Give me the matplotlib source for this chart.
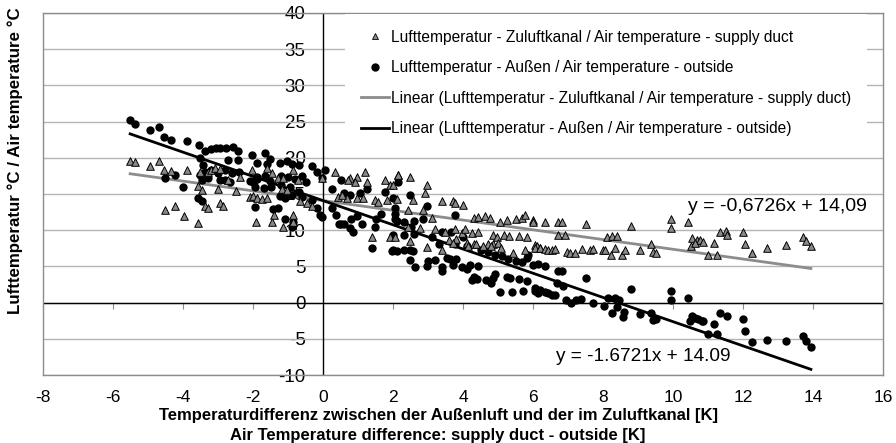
import matplotlib
matplotlib.use("Agg")
import matplotlib.pyplot as plt
from matplotlib.lines import Line2D

plt.rcParams['font.family'] = ['Liberation Sans', 'DejaVu Sans']

# Temperature difference (supply duct - outside) [K] and supply-duct air temperature [°C]
x_supply = [
    -5.51, -5.37, -4.94, -4.68, -4.54, -4.34, -3.88, -4.51, -4.23, -3.97, -3.56, -3.51,
    -3.56, -3.45, -3.30, -3.20, -3.10, -2.95, -3.37, -3.30, -2.94, -2.85, -3.00, -2.71,
    -2.49, -2.37, -2.04, -2.10, -1.92, -1.47, -1.13, -0.86,
    -1.61, -1.47, -1.30, -1.14, -0.86, -0.71, -2.00, -1.90, -1.75, -1.60, -1.18, -1.04,
    -0.66, -0.47, -0.32, -1.40, -0.86, 0.34, 0.77, 0.97, 1.20, 1.25, 0.43, 0.69, 0.97,
    1.15, 1.49, 1.57, 1.77, 1.91, 2.14, 1.83, 2.10, 1.39, 1.91, 2.05, 0.71, 0.91, 2.00,
    0.53, -0.03, 2.15, 2.49, 2.96, 2.91, 2.58, 3.39, 3.70, 3.77, 4.01, 2.44, 2.87, 3.10,
    4.30, 4.44, 4.63, 4.77, 5.06, 5.25, 5.50, 5.69, 5.78, 6.00, 2.44, 2.77, 3.20, 3.49,
    3.77, 3.97, 4.06, 4.26, 4.44, 4.86, 4.97, 5.16, 5.30, 5.60, 5.83, 6.06, 6.14, 2.49,
    3.60, 3.80, 4.10, 4.30, 4.70, 4.86, 2.97, 3.40, 3.71, 4.14, 4.37, 4.56, 4.80, 4.99,
    5.09, 5.43, 5.77, 6.10, 6.20,
    5.99, 6.34, 6.70, 6.83, 7.51, 8.79, 9.94, 9.94, 6.70, 6.90, 8.10, 8.27, 8.40, 9.37,
    6.06, 6.20, 6.34, 6.44, 6.54, 6.63, 6.97, 7.06, 7.20, 7.40, 7.63, 7.71, 8.00, 8.06,
    8.24, 8.34, 8.53, 8.63, 9.06, 9.43, 9.50,
    10.44, 10.54, 10.69, 10.77, 10.86, 10.50, 10.62, 11.18, 11.01, 11.25, 11.34, 11.50,
    11.54, 12.01, 12.06, 12.27, 12.68, 13.22, 13.70, 13.80, 13.94,
]
t_supply = [
    19.6, 19.4, 18.8, 19.5, 18.3, 18.2, 18.3, 12.8, 13.3, 12.0, 11.0, 18.1,
    16.1, 15.6, 18.0, 18.3, 18.6, 18.4, 13.4, 13.0, 13.8, 13.3, 15.7, 17.0,
    15.4, 17.4, 18.3, 14.6, 11.2, 11.1, 10.5, 11.2,
    18.6, 17.9, 17.2, 17.2, 18.3, 17.0, 14.7, 14.5, 14.3, 14.5, 15.7, 15.5,
    14.1, 13.8, 13.3, 12.1, 12.1, 18.1, 17.2, 17.3, 18.1, 16.7, 14.6, 14.4, 14.5,
    14.4, 14.2, 13.9, 17.0, 16.3, 17.6, 14.2, 14.3, 9.0, 9.1, 9.0, 17.0, 16.7, 16.3,
    14.9, 17.2, 17.6, 17.3, 16.3, 15.1, 14.2, 14.0, 14.1, 13.8, 13.5, 12.8, 12.8, 11.7,
    11.7, 11.8, 11.9, 11.7, 11.2, 11.4, 11.5, 11.7, 12.1, 11.4, 10.5, 10.3, 10.1, 9.8,
    10.1, 9.6, 10.1, 9.6, 9.8, 9.4, 9.0, 9.4, 9.2, 9.2, 9.1, 8.0, 7.6, 8.5,
    8.6, 8.8, 8.3, 8.1, 8.1, 8.1, 7.7, 7.2, 8.3, 7.8, 8.1, 7.8, 7.8, 8.3,
    7.6, 6.9, 7.3, 7.8, 7.6,
    11.2, 11.2, 11.1, 11.1, 10.9, 10.6, 11.6, 10.3, 9.4, 9.3, 9.0, 9.2, 9.2, 8.1,
    7.6, 7.5, 7.4, 7.2, 7.3, 7.4, 7.0, 6.8, 6.9, 7.4, 7.3, 7.4, 7.3, 7.2,
    6.6, 7.5, 6.6, 7.2, 7.3, 7.0, 6.8,
    11.2, 8.9, 8.7, 8.7, 8.4, 7.8, 8.3, 8.3, 6.6, 6.6, 9.8, 9.9,
    9.4, 9.7, 8.1, 6.8, 7.6, 7.9, 9.1, 8.5, 7.8,
]

# Temperature difference [K] and outside air temperature [°C]
x_outside = [
    -5.51, -5.37, -4.94, -4.68, -4.54, -4.34, -3.88, -3.53, -3.37, -3.20, -3.07, -2.94,
    -2.77, -2.57, -2.43, -3.51, -3.43, -2.71, -2.43, -2.04, -3.37, -3.20, -3.00, -2.80,
    -2.60, -2.40, -3.51, -4.51, -4.23, -3.99, -3.45, -3.30, -2.94, -2.80, -2.66, -3.57,
    -3.45, -1.94, -1.97, -2.10, -1.90,
    -1.66, -1.51, -1.90, -1.60, -1.23, -1.04, -0.89, -0.70, -0.32, -0.18, 0.06, -0.04,
    -1.90, -1.66, -1.51, -2.00, -1.20, -1.00, -0.80, -0.60, -0.50, -1.95, -1.70, -1.50,
    -1.20, -0.95, -0.70, -1.23, -1.09, -0.89, -0.60, -0.32, -1.44, -1.30, -1.10, -0.86,
    -0.90, -0.18, -0.09, -0.04, 0.26, 0.51, 0.60, 0.26, 0.36, 0.46, 0.77, 1.06, 1.26,
    0.81, 0.97, 1.11, 1.51, 1.66, 1.49, 1.77, 2.00, 2.06, 2.06, 1.39, 1.97, 2.10, 0.77,
    0.86, 0.60, 0.51,
    2.15, 2.49, 2.96, 3.77, 2.06, 2.10, 2.30, 2.60, 2.86, 3.40, 3.67, 4.00, 2.50, 2.00,
    2.30, 2.60, 3.10, 3.30, 3.77, 4.10,
    2.01, 2.30, 2.49, 2.58, 2.49, 2.63, 2.97, 3.01, 3.20, 3.40, 3.40, 3.54, 3.63, 3.71,
    3.81, 3.96, 4.10, 4.20, 4.43, 4.30, 4.27, 4.41, 4.66, 4.81, 4.90, 4.86, 5.25, 5.34,
    5.59, 5.83, 5.06, 5.39, 5.72, 6.06, 6.14, 4.50, 4.70, 4.90, 5.10, 5.29, 5.50, 5.69,
    5.83, 5.87, 6.14,
    6.00, 6.34, 6.70, 6.83, 6.68, 6.86, 7.51, 6.06, 6.20, 6.34, 6.44, 6.54, 6.63, 6.94,
    7.09, 7.23, 7.37, 7.71, 8.14, 8.33, 8.47, 8.04, 8.27, 8.41, 8.60, 8.56, 8.79, 9.06,
    9.37, 9.43, 9.50, 9.94, 9.94,
    10.44, 10.54, 10.63, 10.72, 10.82, 10.48, 10.86, 11.18, 11.01, 11.25, 11.34, 11.54,
    12.01, 12.06, 12.27, 12.68, 13.22, 13.70, 13.80, 13.94,
]
t_outside = [
    25.2, 24.7, 23.8, 24.2, 22.9, 22.5, 22.3, 21.8, 21.0, 21.2, 21.4, 21.3,
    21.4, 21.5, 21.0, 20.0, 19.0, 19.7, 19.7, 20.4, 18.0, 18.3, 17.9, 18.3,
    17.9, 18.1, 17.6, 17.2, 17.6, 16.0, 17.0, 17.2, 16.9, 16.9, 16.7, 14.5,
    14.0, 13.2, 16.8, 16.8, 17.1,
    20.6, 19.9, 19.3, 19.1, 19.3, 19.5, 19.2, 19.0, 18.8, 18.1, 18.3, 17.2,
    17.3, 17.5, 16.8, 16.6, 17.5, 17.3, 17.1, 17.5, 16.6, 16.0, 15.8, 16.0,
    16.2, 16.0, 15.3, 14.7, 14.5, 14.8, 14.6, 14.2, 12.9, 13.1, 11.6, 11.2,
    10.4, 13.1, 12.1, 11.8, 15.7, 17.0, 15.2, 13.0, 12.1, 10.8, 14.9, 15.2, 15.7,
    11.6, 12.0, 10.9, 11.6, 12.3, 10.4, 15.3, 14.5, 13.1, 12.2, 7.6, 7.1, 7.1, 10.3,
    9.8, 10.8, 10.8,
    16.7, 14.9, 13.3, 12.1, 11.6, 11.3, 11.1, 11.3, 11.6, 9.8, 9.8, 9.1, 10.4, 9.3,
    9.4, 9.5, 9.0, 8.1, 8.1, 7.8,
    7.3, 7.2, 7.3, 7.1, 5.9, 4.9, 5.0, 5.7, 5.9, 4.9, 4.3, 6.2, 6.0, 5.2,
    6.0, 4.9, 4.6, 5.2, 5.1, 3.5, 3.1, 3.3, 3.1, 2.7, 3.9, 3.4, 3.6, 3.4,
    3.2, 3.0, 1.4, 1.4, 1.6, 1.6, 1.3, 7.2, 7.0, 6.6, 6.4, 6.0, 5.8, 5.6,
    6.1, 6.6, 5.4,
    5.2, 5.0, 4.4, 4.3, 2.7, 2.3, 3.4, 2.0, 1.7, 1.4, 1.3, 1.0, 1.1, 0.3,
    0.0, 0.4, 0.5, 0.0, 0.7, 0.7, 0.4, -0.5, -1.5, -0.6, -1.3, -2.0, 1.9, -1.6,
    -1.4, -2.4, -2.2, 1.6, 0.3,
    0.7, -1.9, -2.1, -2.3, -2.5, -2.6, -2.6, -2.9, -4.3, -4.4, -1.5, -1.8,
    -2.3, -3.9, -5.5, -5.1, -5.3, -4.6, -5.3, -6.2,
]

# Linear trend lines: (slope, intercept) and their equation labels
fit_supply = (-0.6726, 14.09)
fit_outside = (-1.6721, 14.09)
eq_supply = "y = -0,6726x + 14,09"
eq_outside = "y = -1.6721x + 14.09"

lbl_supply = "Lufttemperatur - Zuluftkanal / Air temperature - supply duct"
lbl_outside = "Lufttemperatur - Außen / Air temperature - outside"

x_ticks = list(range(-8, 17, 2))
y_ticks = list(range(-10, 41, 5))

fig = plt.figure(figsize=(8.96, 4.43), dpi=100)
ax = fig.add_axes([43 / 896, 1 - 375 / 443, 840 / 896, 362 / 443])
ax.set_xlim(-8, 16)
ax.set_ylim(-10, 40)

# plot area frame
for s in ax.spines.values():
    s.set_color('#8c8c8c')
    s.set_linewidth(1.0)

# horizontal gridlines only
ax.set_yticks(y_ticks)
ax.yaxis.grid(True, color='#b4b4b4', linewidth=1.0)
ax.set_axisbelow(True)
ax.tick_params(axis='y', left=False, labelleft=False)
ax.set_xticks(x_ticks)
ax.set_xticklabels([str(v) for v in x_ticks], fontsize=12.5)
ax.tick_params(axis='x', length=0, pad=11)

# axes crossing at zero
ax.axhline(0, color='black', linewidth=1.0, zorder=1.5)
ax.axvline(0, color='black', linewidth=1.0, zorder=1.5)

secx = ax.secondary_xaxis((0 - (-10)) / 50)
secx.set_xticks(x_ticks)
secx.tick_params(axis='x', length=4, width=0.8, color='#8c8c8c', labelbottom=False)
for s in secx.spines.values():
    s.set_visible(False)

secy = ax.secondary_yaxis((0 - (-8)) / 24)
secy.set_yticks(y_ticks)
secy.set_yticklabels([str(v) for v in y_ticks], fontsize=13.5)
secy.tick_params(axis='y', length=0, pad=12.5)
for s in secy.spines.values():
    s.set_visible(False)

# trend lines
xs_s = [min(x_supply), max(x_supply)]
ax.plot(xs_s, [fit_supply[0] * v + fit_supply[1] for v in xs_s],
        color='#8c8c8c', linewidth=2.0, zorder=3)
xs_o = [min(x_outside), max(x_outside)]
ax.plot(xs_o, [fit_outside[0] * v + fit_outside[1] for v in xs_o],
        color='black', linewidth=2.0, zorder=3)

# measured points
ax.scatter(x_outside, t_outside, s=36, marker='o', color='black', zorder=4,
           linewidths=0)
ax.scatter(x_supply, t_supply, s=30, marker='^', facecolor='#8a8a8a',
           edgecolor='black', linewidths=0.7, zorder=5)

ax.text(15.54, 13.25, eq_supply, fontsize=14, ha='right', va='center', zorder=6)
ax.text(11.63, -7.45, eq_outside, fontsize=13.7, ha='right', va='center', zorder=6)

handles = [
    Line2D([], [], linestyle='none', marker='^', markersize=5,
           markerfacecolor='#8a8a8a', markeredgecolor='black', markeredgewidth=0.6),
    Line2D([], [], linestyle='none', marker='o', markersize=5, color='black'),
    Line2D([], [], color='#8c8c8c', linewidth=2.0),
    Line2D([], [], color='black', linewidth=2.0),
]
labels = [lbl_supply, lbl_outside,
          "Linear (" + lbl_supply + ")", "Linear (" + lbl_outside + ")"]
leg = ax.legend(handles, labels, loc='upper left',
                bbox_to_anchor=((345 - 43) / 840, 0.997), borderaxespad=0,
                fontsize=11.2, frameon=True, fancybox=False, framealpha=1,
                edgecolor='none', facecolor='white', borderpad=1.0,
                handlelength=1.8, handletextpad=0.15, labelspacing=1.0)
leg.set_zorder(10)

fig.text(438 / 896, 1 - 420 / 443,
         "Temperaturdifferenz zwischen der Außenluft und der im Zuluftkanal [K]",
         fontsize=12, fontweight='bold', ha='center', va='baseline')
fig.text(438 / 896, 1 - 440 / 443,
         "Air Temperature difference: supply duct - outside [K]",
         fontsize=12, fontweight='bold', ha='center', va='baseline')
fig.text(15 / 896, 1 - 161 / 443, "Lufttemperatur °C / Air temperature °C",
         rotation=90, fontsize=12.2, fontweight='bold', ha='center', va='center')

fig.savefig("out.png", dpi=100)
